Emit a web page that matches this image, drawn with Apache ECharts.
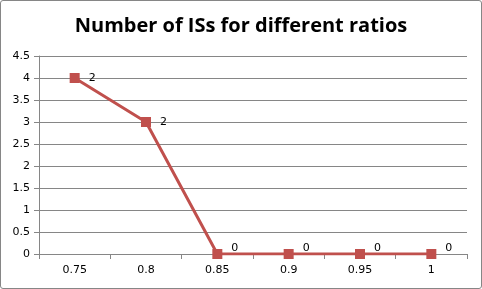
<!DOCTYPE html>
<html><head><meta charset="utf-8">
<script src="https://cdn.jsdelivr.net/npm/echarts@6/dist/echarts.min.js"></script>
<style>
html,body{margin:0;padding:0;background:#fff;}
#frame{position:absolute;left:0;top:0;width:480px;height:287px;border:1px solid #868686;border-radius:3px;}
#c{position:absolute;left:0;top:0;width:482px;height:289px;}
</style></head><body>
<div id="frame"></div>
<div id="c"></div>
<script>
var titleText = 'Number of ISs for different ratios';
var categories = ['0.75', '0.8', '0.85', '0.9', '0.95', '1'];
var values = [4, 3, 0, 0, 0, 0];
var pointLabels = ['2', '2', '0', '0', '0', '0'];
var yMin = 0, yMax = 4.5, yStep = 0.5;

var seriesData = values.map(function (v) {
  return {value: v, label: {offset: v === 0 ? [0, -6] : [0, 0]}};
});

var chart = echarts.init(document.getElementById('c'), null, {renderer: 'canvas'});
chart.setOption({
  animation: false,
  title: {
    text: titleText, left: 'center', top: 11,
    textStyle: {fontFamily: 'Open Sans', fontWeight: 'bold', fontSize: 20, color: '#000'}
  },
  grid: {left: 39, right: 15, top: 56, bottom: 35},
  xAxis: {
    type: 'category', data: categories, boundaryGap: true,
    axisLine: {lineStyle: {color: '#868686', width: 1}},
    axisTick: {show: true, length: 5, lineStyle: {color: '#868686'}},
    axisLabel: {fontFamily: 'DejaVu Sans', fontSize: 11, color: '#000', margin: 11}
  },
  yAxis: {
    type: 'value', min: yMin, max: yMax, interval: yStep,
    axisLine: {show: true, lineStyle: {color: '#868686', width: 1}},
    axisTick: {show: true, length: 5, lineStyle: {color: '#868686'}},
    splitLine: {lineStyle: {color: '#868686', width: 1}},
    axisLabel: {fontFamily: 'DejaVu Sans', fontSize: 11, color: '#000', margin: 9}
  },
  series: [{
    type: 'line', data: seriesData,
    symbol: 'rect', symbolSize: 10,
    itemStyle: {color: '#C0504D'},
    lineStyle: {color: '#C0504D', width: 3},
    label: {
      show: true, position: 'right', distance: 9,
      fontFamily: 'DejaVu Sans', fontSize: 11, color: '#000',
      formatter: function (p) { return pointLabels[p.dataIndex]; }
    }
  }]
});
</script>
</body></html>
